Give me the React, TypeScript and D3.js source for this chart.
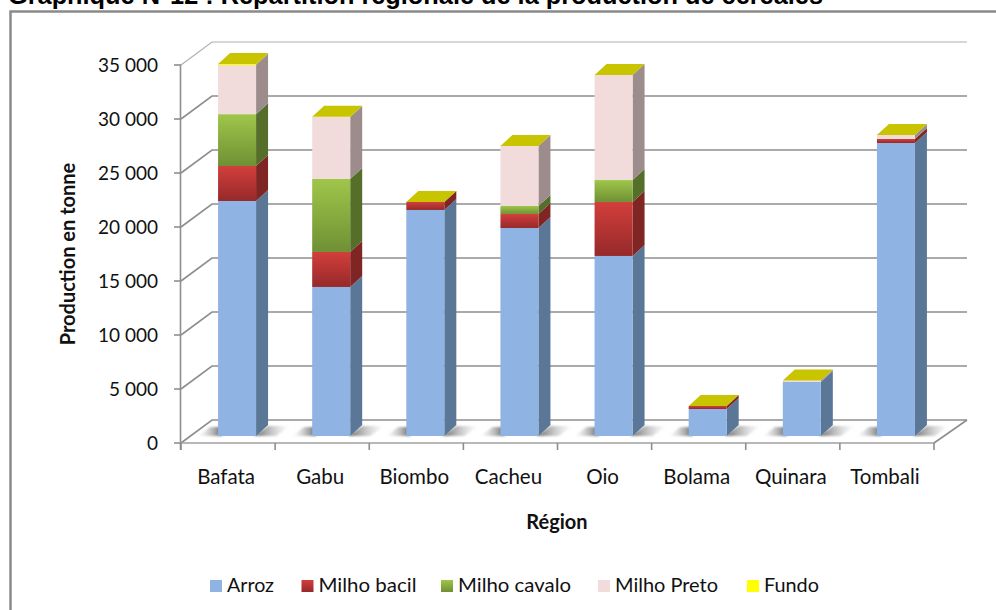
import React from "react";
import * as d3 from "d3";

const title = "Graphique N°12 : Répartition régionale de la production de céréales";
const regions = ["Bafata", "Gabu", "Biombo", "Cacheu", "Oio", "Bolama", "Quinara", "Tombali"];
const seriesNames = ["Arroz", "Milho bacil", "Milho cavalo", "Milho Preto", "Fundo"];
const arroz = [21760, 13800, 20930, 19260, 16670, 2500, 5000, 27130];
const milhoBacil = [3240, 3240, 740, 1300, 5000, 280, 0, 370];
const milhoCavalo = [4800, 6760, 0, 740, 2030, 0, 0, 0];
const milhoPreto = [4550, 5740, 0, 5550, 9730, 0, 140, 370];
const fundo = [100, 20, 0, 0, 0, 0, 0, 0];
const yTicks = [0, 5000, 10000, 15000, 20000, 25000, 30000, 35000];
const tickLabels = ["0", "5 000", "10 000", "15 000", "20 000", "25 000", "30 000", "35 000"];
const fronts = ["#8fb3e2", "#d23f3c", "#9fc64a", "#f2dcdb", "#ffff00"];
const sides = ["#5b7797", "#7f2523", "#556f2a", "#9c8d8c", "#a5a500"];
const ends = ["#8fb3e2", "#96292a", "#6f9034", "#f2dcdb", "#ffff00"];

const font = "Lato, sans-serif";

export default function App() {
  const x = d3.scaleBand<string>().domain(regions).range([181, 934]);
  const yAxis = d3.scaleLinear().domain([0, 35000]).range([443, 65]);
  const yBar = d3.scaleLinear().domain([0, 35000]).range([436, 58]);
  const stacked = d3.stack<number>().keys(d3.range(5).map(String)).value((_, k) =>
    [arroz, milhoBacil, milhoCavalo, milhoPreto, fundo][+k][_])(d3.range(regions.length));
  const barW = 38, dx = 12, dy = 11, backX = 31, backY = 23, backEnd = 967;
  const grid = "#8e8e8e";
  const legendX = [210, 301.5, 441, 598, 747];
  const legendW = [47, 98, 113, 103, 55];
  return (
    <svg width={996} height={610} style={{ position: "absolute", left: 0, top: 0, background: "#fff" }}>
      <defs>
        {fronts.map((c, i) => (
          <linearGradient key={i} id={`g${i}`} x1="0" y1="0" x2="0" y2="1">
            <stop offset="0" stopColor={c} />
            <stop offset="1" stopColor={ends[i]} />
          </linearGradient>
        ))}
        <linearGradient id="sh" x1="0" y1="0" x2="1" y2="0">
          <stop offset="0" stopColor="#666" stopOpacity="1" />
          <stop offset="1" stopColor="#bbb" stopOpacity="0" />
        </linearGradient>
        <linearGradient id="shL" x1="1" y1="0" x2="0" y2="0">
          <stop offset="0" stopColor="#666" stopOpacity="1" />
          <stop offset="1" stopColor="#bbb" stopOpacity="0" />
        </linearGradient>
        <filter id="soft" x="-20%" y="-40%" width="140%" height="180%">
          <feGaussianBlur stdDeviation="1.2" />
        </filter>
      </defs>
      <text x={8} y={4} fontFamily="'Liberation Sans', Arial, sans-serif" fontWeight="bold" fontSize={25} textLength={815} lengthAdjust="spacingAndGlyphs" fill="#000">{title}</text>
      <path d="M10.5,610 V11.5 H996" fill="none" stroke="#8a8a8a" strokeWidth={2.5} />

      {yTicks.map((t, i) => (
        <g key={t}>
          <path d={`M${181},${yAxis(t)} L${181 + backX},${yAxis(t) - backY} H${backEnd}`} fill="none"
            stroke={t === 35000 ? "#b0b0b0" : grid} strokeWidth={t === 35000 ? 1.2 : 1.6} />
          <line x1={174} x2={181} y1={yAxis(t)} y2={yAxis(t)} stroke={grid} strokeWidth={1.6} />
          <text x={158} y={yAxis(t) + 6.5} textAnchor="end" fontFamily={font} fontSize={19} fill="#111">{tickLabels[i]}</text>
        </g>
      ))}
      <path d={`M${backEnd},${443 - backY} L934,443`} fill="none" stroke={grid} strokeWidth={1.6} />
      <line x1={180.5} x2={180.5} y1={65} y2={450} stroke={grid} strokeWidth={1.6} />
      <line x1={181} x2={934} y1={443} y2={443} stroke="#a0a0a0" strokeWidth={1.6} />
      {[...regions.map((r) => x(r)!), 934].map((p) => (
        <line key={p} x1={p} x2={p} y1={443} y2={450} stroke={grid} strokeWidth={1.6} />
      ))}

      {regions.map((r) => {
        const bx = x(r)! + (x.bandwidth() - barW) / 2 + 9;
        return (
          <g key={r} filter="url(#soft)">
            <path d={`M${bx - 20},436 L${bx - 8},427 H${bx + 4} V436 Z`} fill="url(#shL)" />
            <path d={`M${bx + barW - 2},436 L${bx + barW + dx},426 H${bx + barW + 34} L${bx + barW + 20},436 Z`} fill="url(#sh)" />
          </g>
        );
      })}

      {regions.map((r, ri) => {
        const bx = x(r)! + (x.bandwidth() - barW) / 2 + 9;
        const visible = stacked.filter((s) => s[ri][1] - s[ri][0] > 0);
        const top = visible[visible.length - 1];
        const topY = yBar(top[ri][1]);
        return (
          <g key={r}>
            {visible.map((s) => {
              const k = +s.key;
              const y0 = yBar(s[ri][0]), y1 = yBar(s[ri][1]);
              return (
                <g key={k}>
                  <path d={`M${bx + barW},${y1} l${dx},${-dy} V${y0 - dy} l${-dx},${dy} Z`} fill={sides[k]} />
                  <rect x={bx} y={y1} width={barW} height={y0 - y1} fill={`url(#g${k})`} />
                </g>
              );
            })}
            <path d={`M${bx},${topY} l${dx},${-dy} h${barW} l${-dx},${dy} Z`} fill="#c8c400" />
            <text x={bx + barW / 2 - 11} y={484} textAnchor="middle" fontFamily={font} fontSize={20.5} fill="#111">{r}</text>
          </g>
        );
      })}

      <text transform="translate(75,254) rotate(-90)" textAnchor="middle" fontFamily={font} fontWeight="bold" fontSize={20} fill="#111">Production en tonne</text>
      <text x={557} y={529} textAnchor="middle" fontFamily={font} fontWeight="bold" fontSize={20} fill="#111">Région</text>

      {seriesNames.map((n, i) => (
        <g key={n}>
          <rect x={legendX[i]} y={580} width={12} height={12} fill={`url(#g${i})`} />
          <text x={legendX[i] + 17} y={592} fontFamily={font} fontSize={20} textLength={legendW[i]} lengthAdjust="spacingAndGlyphs" fill="#111">{n}</text>
        </g>
      ))}
    </svg>
  );
}
